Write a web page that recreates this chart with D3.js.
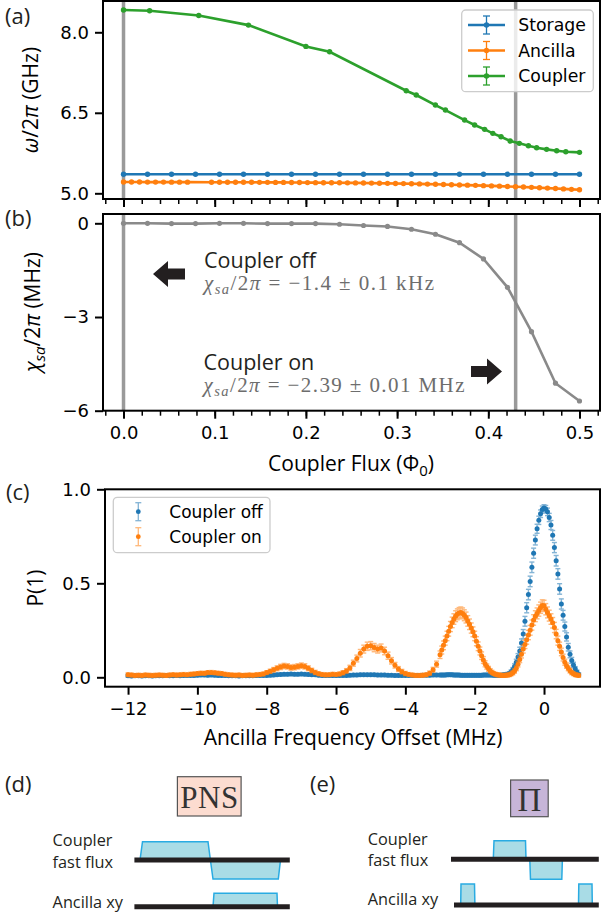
<!DOCTYPE html>
<html><head><meta charset="utf-8">
<script src="https://cdn.jsdelivr.net/npm/d3@7"></script>
<style>body{margin:0;background:#fff} svg{display:block}</style>
</head><body>
<svg id="fig" width="602" height="916"></svg>
<script>
// ---------------- DATA ----------------
// (a) mode frequencies vs coupler flux
const fluxGrid = d3.range(20).map(i => i * 0.5 / 19);
const storageGHz = [5.354,5.354,5.354,5.354,5.354,5.354,5.354,5.354,5.354,5.354,5.354,5.354,5.354,5.354,5.354,5.354,5.354,5.354,5.354,5.354];
const couplerFlux = [0,0.0286,0.0825,0.137,0.200,0.226,0.310,0.321,0.342,0.353,0.374,0.385,0.396,0.405,0.414,0.424,0.434,0.444,0.453,0.464,0.475,0.485,0.500];
const couplerGHz = [8.414,8.401,8.314,8.134,7.737,7.637,6.911,6.831,6.644,6.551,6.365,6.272,6.192,6.117,6.054,5.974,5.931,5.886,5.849,5.819,5.793,5.775,5.763];
const ancillaFluxGrid = d3.range(58).map(i => i * 0.5 / 57);
const ancillaGHz = [5.210,5.210,5.210,5.209,5.209,5.209,5.208,5.208,5.208,null,null,5.207,5.207,5.206,5.206,5.205,5.205,5.204,5.204,5.203,
  5.203,5.202,5.201,5.200,5.199,5.198,5.197,5.196,5.195,5.194,5.192,5.190,5.188,5.186,5.184,5.181,5.178,5.175,5.172,5.168,
  5.164,5.160,5.156,5.152,5.148,5.143,5.138,5.133,5.128,5.123,5.117,5.111,5.104,5.097,5.090,5.082,5.074,5.065];
const markedFlux = [0, 0.43];
const seriesNames = ["Storage", "Ancilla", "Coupler"];
const seriesColors = ["#1f77b4", "#ff7f0e", "#2ca02c"];
const ticksA_y = [5.0, 6.5, 8.0];
const ticksFlux = [0, 0.1, 0.2, 0.3, 0.4, 0.5];

// (b) cross-Kerr vs coupler flux
const chiMHz = [0,0,-0.01,-0.01,0,0,-0.01,-0.01,-0.01,-0.03,-0.07,-0.10,-0.19,-0.35,-0.62,-1.14,-2.05,-3.47,-5.12,-5.69];
const ticksB_y = [-6, -3, 0];

// (c) ancilla spectroscopy: coarse scan -12..-3.1 (0.1 MHz), fine scan -3..1 (0.05 MHz)
const freqGrid = d3.range(90).map(i => -12 + i * 0.1).concat(d3.range(81).map(i => -3 + i * 0.05));
const pOff = [
 0.008,0.007,0.008,0.008,0.007,0.008,0.008,0.007,0.008,0.008,0.008,0.009,0.008,0.008,0.009,0.008,0.009,0.009,0.010,0.010,
 0.011,0.012,0.012,0.011,0.012,0.011,0.010,0.009,0.009,0.008,0.008,0.008,0.007,0.008,0.008,0.008,0.008,0.009,0.009,0.010,
 0.010,0.011,0.012,0.014,0.015,0.016,0.016,0.017,0.016,0.016,0.017,0.016,0.015,0.014,0.013,0.011,0.010,0.009,0.009,0.009,
 0.009,0.009,0.010,0.010,0.011,0.012,0.012,0.013,0.013,0.013,0.013,0.013,0.012,0.012,0.012,0.011,0.011,0.010,0.010,0.010,
 0.010,0.010,0.010,0.010,0.010,0.011,0.011,0.011,0.012,0.012,
 0.012,0.012,0.012,0.012,0.013,0.013,0.013,0.013,0.012,0.012,0.012,0.012,0.011,0.011,0.011,0.011,0.011,0.011,0.011,0.011,
 0.011,0.011,0.011,0.011,0.011,0.012,0.012,0.012,0.012,0.012,0.012,0.011,0.011,0.011,0.011,0.011,0.012,0.013,0.014,0.016,
 0.020,0.028,0.040,0.058,0.080,0.108,0.140,0.182,0.230,0.298,0.370,0.440,0.510,0.585,0.660,0.730,0.790,0.835,0.870,0.892,
 0.900,0.895,0.880,0.850,0.810,0.755,0.690,0.620,0.550,0.470,0.390,0.330,0.270,0.215,0.160,0.122,0.090,0.066,0.045,0.028,0.015];
const errOff = [
 0.008,0.008,0.008,0.008,0.008,0.008,0.008,0.008,0.008,0.008,0.008,0.008,0.008,0.008,0.008,0.008,0.008,0.008,0.008,0.008,
 0.008,0.008,0.008,0.008,0.008,0.008,0.008,0.008,0.008,0.008,0.008,0.008,0.008,0.008,0.008,0.008,0.008,0.008,0.008,0.008,
 0.008,0.008,0.008,0.008,0.008,0.008,0.008,0.008,0.008,0.008,0.008,0.008,0.008,0.008,0.008,0.008,0.008,0.008,0.008,0.008,
 0.008,0.008,0.008,0.008,0.008,0.008,0.008,0.008,0.008,0.008,0.008,0.008,0.008,0.008,0.008,0.008,0.008,0.008,0.008,0.008,
 0.008,0.008,0.008,0.008,0.008,0.008,0.008,0.008,0.008,0.008,
 0.008,0.008,0.008,0.008,0.008,0.008,0.008,0.008,0.008,0.008,0.008,0.008,0.008,0.008,0.008,0.008,0.008,0.008,0.008,0.008,
 0.008,0.008,0.008,0.008,0.008,0.008,0.008,0.008,0.008,0.008,0.008,0.008,0.008,0.008,0.008,0.008,0.008,0.009,0.009,0.010,
 0.010,0.011,0.012,0.014,0.016,0.018,0.020,0.022,0.024,0.026,0.027,0.028,0.028,0.028,0.027,0.026,0.024,0.022,0.020,0.019,
 0.018,0.019,0.020,0.022,0.024,0.026,0.027,0.028,0.028,0.028,0.027,0.026,0.024,0.022,0.020,0.018,0.016,0.014,0.012,0.010,0.009];
const pOn = [
 0.014,0.012,0.010,0.011,0.010,0.012,0.011,0.010,0.011,0.012,0.011,0.010,0.012,0.014,0.012,0.013,0.015,0.014,0.016,0.018,
 0.020,0.022,0.021,0.025,0.026,0.024,0.022,0.020,0.016,0.014,0.012,0.011,0.012,0.010,0.011,0.012,0.011,0.013,0.015,0.018,
 0.025,0.032,0.040,0.048,0.055,0.060,0.058,0.052,0.054,0.058,0.062,0.058,0.048,0.036,0.026,0.019,0.015,0.013,0.014,0.016,
 0.015,0.018,0.024,0.034,0.050,0.075,0.100,0.128,0.150,0.165,0.168,0.158,0.150,0.156,0.140,0.115,0.088,0.064,0.044,0.030,
 0.020,0.015,0.012,0.010,0.010,0.011,0.014,0.022,0.040,0.070,
 0.120,0.145,0.170,0.195,0.220,0.245,0.270,0.292,0.310,0.325,0.335,0.342,0.345,0.340,0.330,0.318,0.300,0.282,0.262,0.242,
 0.220,0.192,0.165,0.140,0.115,0.092,0.072,0.057,0.045,0.034,0.026,0.020,0.016,0.013,0.012,0.011,0.010,0.010,0.011,0.012,
 0.014,0.018,0.024,0.034,0.048,0.070,0.095,0.122,0.150,0.175,0.200,0.225,0.250,0.278,0.305,0.325,0.340,0.355,0.370,0.382,
 0.380,0.362,0.345,0.328,0.310,0.290,0.265,0.230,0.195,0.165,0.135,0.105,0.080,0.062,0.048,0.035,0.025,0.019,0.014,0.012,0.010];
const errOn = [
 0.010,0.010,0.010,0.010,0.010,0.010,0.010,0.010,0.010,0.010,0.010,0.010,0.010,0.010,0.010,0.010,0.010,0.010,0.010,0.010,
 0.010,0.010,0.010,0.010,0.010,0.010,0.010,0.010,0.010,0.010,0.010,0.010,0.010,0.010,0.010,0.010,0.010,0.010,0.010,0.010,
 0.010,0.011,0.012,0.013,0.014,0.014,0.014,0.014,0.014,0.014,0.014,0.014,0.013,0.012,0.011,0.010,0.010,0.010,0.010,0.010,
 0.010,0.010,0.011,0.012,0.014,0.016,0.018,0.020,0.021,0.022,0.022,0.022,0.021,0.021,0.020,0.019,0.017,0.015,0.013,0.012,
 0.011,0.010,0.010,0.010,0.010,0.010,0.010,0.011,0.013,0.016,
 0.020,0.021,0.023,0.024,0.025,0.026,0.027,0.028,0.028,0.029,0.029,0.029,0.029,0.029,0.029,0.029,0.028,0.028,0.027,0.026,
 0.025,0.024,0.023,0.021,0.020,0.018,0.016,0.014,0.013,0.012,0.011,0.010,0.010,0.010,0.010,0.010,0.010,0.010,0.010,0.010,
 0.010,0.010,0.011,0.012,0.013,0.015,0.017,0.019,0.021,0.022,0.024,0.025,0.026,0.027,0.028,0.029,0.029,0.030,0.030,0.030,
 0.030,0.030,0.029,0.029,0.028,0.028,0.027,0.025,0.024,0.022,0.020,0.018,0.016,0.014,0.013,0.012,0.011,0.010,0.010,0.010,0.010];
const specNames = ["Coupler off", "Coupler on"];
const specColors = ["#1f77b4", "#ff7f0e"];
const ticksC_x = [-12, -10, -8, -6, -4, -2, 0];
const ticksC_y = [0.0, 0.5, 1.0];

// ---------------- DRAWING ----------------
const svg = d3.select("#fig");
const TICKFONT = "DejaVu Sans";
const LABFONT = "Open Sans";
const SPINE = 2;

function styleAxis(g, size) {
  g.selectAll(".domain").remove();
  g.selectAll(".tick line").attr("stroke", "#000").attr("stroke-width", SPINE);
  g.selectAll(".tick text").attr("font-family", TICKFONT).attr("font-size", size || 18).attr("fill", "#000");
}
function frame(x0, y0, x1, y1) {
  svg.append("rect").attr("x", x0).attr("y", y0).attr("width", x1 - x0).attr("height", y1 - y0)
    .attr("fill", "none").attr("stroke", "#000").attr("stroke-width", SPINE);
}
function panelLabel(t, x, y) {
  svg.append("text").attr("x", x).attr("y", y).attr("font-family", LABFONT).attr("font-size", 22)
    .attr("fill", "#231f20").text(t);
}
function errbars(g, xs, ys, es, xS, yS, color, cap) {
  const d = xs.map((x, i) => ({x, y: ys[i], e: es[i]}));
  const eg = g.append("g").attr("stroke", color).attr("stroke-width", 1.4).attr("opacity", 0.55);
  eg.selectAll("line.v").data(d).join("line").attr("class", "v")
    .attr("x1", p => xS(p.x)).attr("x2", p => xS(p.x))
    .attr("y1", p => yS(p.y - p.e)).attr("y2", p => yS(p.y + p.e));
  eg.selectAll("line.t").data(d).join("line").attr("class", "t")
    .attr("x1", p => xS(p.x) - cap).attr("x2", p => xS(p.x) + cap)
    .attr("y1", p => yS(p.y + p.e)).attr("y2", p => yS(p.y + p.e));
  eg.selectAll("line.b").data(d).join("line").attr("class", "b")
    .attr("x1", p => xS(p.x) - cap).attr("x2", p => xS(p.x) + cap)
    .attr("y1", p => yS(p.y - p.e)).attr("y2", p => yS(p.y - p.e));
  g.append("g").attr("fill", color).selectAll("circle").data(d).join("circle")
    .attr("cx", p => xS(p.x)).attr("cy", p => yS(p.y)).attr("r", 2.5);
}

// ---- Panel (a) ----
const A = {l: 103, r: 600, t: 1, b: 199};
const xA = d3.scaleLinear().domain([-0.0225, 0.5225]).range([A.l, A.r]);
const yA = d3.scaleLinear().domain([4.894, 8.583]).range([A.b, A.t]);
const gA = svg.append("g");
markedFlux.forEach(f => gA.append("line").attr("x1", xA(f)).attr("x2", xA(f)).attr("y1", A.t).attr("y2", A.b)
  .attr("stroke", "#9a9a9a").attr("stroke-width", 3.5));
const seriesA = [
  fluxGrid.map((f, i) => [f, storageGHz[i]]),
  ancillaFluxGrid.map((f, i) => [f, ancillaGHz[i]]).filter(p => p[1] !== null),
  couplerFlux.map((f, i) => [f, couplerGHz[i]])
];
const lineA = d3.line().x(p => xA(p[0])).y(p => yA(p[1]));
seriesA.forEach((s, k) => {
  gA.append("path").attr("d", lineA(s)).attr("fill", "none").attr("stroke", seriesColors[k]).attr("stroke-width", 2.6);
  gA.append("g").attr("fill", seriesColors[k]).selectAll("circle").data(s).join("circle")
    .attr("cx", p => xA(p[0])).attr("cy", p => yA(p[1])).attr("r", 2.7);
});
svg.append("g").attr("transform", `translate(${A.l},0)`)
  .call(d3.axisLeft(yA).tickValues(ticksA_y).tickFormat(d3.format(".1f")).tickSize(8).tickPadding(6))
  .call(g => styleAxis(g));
svg.append("g").attr("transform", `translate(0,${A.b})`)
  .call(d3.axisBottom(xA).tickValues(ticksFlux).tickFormat("").tickSize(8)).call(g => styleAxis(g));
svg.append("g").attr("transform", `translate(0,${A.b})`)
  .call(d3.axisBottom(xA).tickValues(d3.range(-0.02, 0.521, 0.02)).tickFormat("").tickSize(5))
  .call(g => { styleAxis(g); g.selectAll(".tick line").attr("stroke-width", 1.5); });
frame(A.l, A.t, A.r, A.b);
// legend (a)
const legA = svg.append("g");
legA.append("rect").attr("x", 461.7).attr("y", 10).attr("width", 131.6).attr("height", 81.7).attr("rx", 4)
  .attr("fill", "#fff").attr("fill-opacity", 0.8).attr("stroke", "#cccccc").attr("stroke-width", 1.3);
[25, 50.5, 76].forEach((cy, k) => {
  const c = seriesColors[k];
  legA.append("line").attr("x1", 468).attr("x2", 505).attr("y1", cy).attr("y2", cy).attr("stroke", c).attr("stroke-width", 2.6);
  legA.append("line").attr("x1", 486.5).attr("x2", 486.5).attr("y1", cy - 9).attr("y2", cy + 9).attr("stroke", c).attr("stroke-width", 1.3);
  legA.append("line").attr("x1", 483).attr("x2", 490).attr("y1", cy - 9).attr("y2", cy - 9).attr("stroke", c).attr("stroke-width", 1.3);
  legA.append("line").attr("x1", 483).attr("x2", 490).attr("y1", cy + 9).attr("y2", cy + 9).attr("stroke", c).attr("stroke-width", 1.3);
  legA.append("circle").attr("cx", 486.5).attr("cy", cy).attr("r", 2.7).attr("fill", c);
  legA.append("text").attr("x", 518.3).attr("y", cy + 6.2).attr("font-family", TICKFONT).attr("font-size", 17.3).text(seriesNames[k]);
});
// y label (a)
const ylA = svg.append("text").attr("transform", "translate(38,100) rotate(-90)").attr("text-anchor", "middle")
  .attr("font-family", LABFONT).attr("font-size", 21).attr("fill", "#000");
ylA.append("tspan").attr("font-style", "italic").text("ω");
ylA.append("tspan").text("/2");
ylA.append("tspan").attr("font-style", "italic").text("π");
ylA.append("tspan").text(" (GHz)");
panelLabel("(a)", 5, 24);

// ---- Panel (b) ----
const B = {l: 103, r: 600, t: 214, b: 410.7};
const xB = d3.scaleLinear().domain([-0.0225, 0.5225]).range([B.l, B.r]);
const yB = d3.scaleLinear().domain([-6, 0.298]).range([B.b, B.t]);
const gB = svg.append("g");
markedFlux.forEach(f => gB.append("line").attr("x1", xB(f)).attr("x2", xB(f)).attr("y1", B.t).attr("y2", B.b)
  .attr("stroke", "#9a9a9a").attr("stroke-width", 3.5));
const sB = fluxGrid.map((f, i) => [f, chiMHz[i]]);
gB.append("path").attr("d", d3.line().x(p => xB(p[0])).y(p => yB(p[1]))(sB)).attr("fill", "none")
  .attr("stroke", "#8a8a8a").attr("stroke-width", 2.6);
gB.append("g").attr("fill", "#8a8a8a").selectAll("circle").data(sB).join("circle")
  .attr("cx", p => xB(p[0])).attr("cy", p => yB(p[1])).attr("r", 2.6);
svg.append("g").attr("transform", `translate(${B.l},0)`)
  .call(d3.axisLeft(yB).tickValues(ticksB_y).tickFormat(d3.format("d")).tickSize(8).tickPadding(6))
  .call(g => styleAxis(g));
svg.append("g").attr("transform", `translate(0,${B.b})`)
  .call(d3.axisBottom(xB).tickValues(ticksFlux).tickFormat(d3.format(".1f")).tickSize(8).tickPadding(8))
  .call(g => styleAxis(g));
svg.append("g").attr("transform", `translate(0,${B.b})`)
  .call(d3.axisBottom(xB).tickValues(d3.range(-0.02, 0.521, 0.02)).tickFormat("").tickSize(5))
  .call(g => { styleAxis(g); g.selectAll(".tick line").attr("stroke-width", 1.5); });
frame(B.l, B.t, B.r, B.b);
// annotations
function ann(title, x, y1, y2, val, unit, w) {
  svg.append("text").attr("x", x).attr("y", y1).attr("font-family", LABFONT).attr("font-size", 21.5)
    .attr("fill", "#231f20").text(title);
  const m = svg.append("text").attr("x", x).attr("y", y2).attr("font-family", "Liberation Serif")
    .attr("font-size", 21).attr("fill", "#6d6d6d").attr("textLength", w).attr("lengthAdjust", "spacing");
  m.append("tspan").attr("font-style", "italic").text("χ");
  m.append("tspan").attr("font-style", "italic").attr("font-size", 14.5).attr("dy", 4).text("sa");
  m.append("tspan").attr("dy", -4).text("/2");
  m.append("tspan").attr("font-style", "italic").text("π");
  m.append("tspan").text(" = " + val + " " + unit);
}
ann("Coupler off", 204, 268, 289.5, "−1.4 ± 0.1", "kHz", 230);
ann("Coupler on", 203.5, 370, 391.5, "−2.39 ± 0.01", "MHz", 261);
function arrow(x0, x1, cy, dir) {
  const hl = 15, hh = 13, sh = 5.5;
  let pts;
  if (dir < 0) pts = [[x0, cy], [x0 + hl, cy - hh], [x0 + hl, cy - sh], [x1, cy - sh], [x1, cy + sh], [x0 + hl, cy + sh], [x0 + hl, cy + hh]];
  else pts = [[x1, cy], [x1 - hl, cy - hh], [x1 - hl, cy - sh], [x0, cy - sh], [x0, cy + sh], [x1 - hl, cy + sh], [x1 - hl, cy + hh]];
  svg.append("polygon").attr("points", pts.map(p => p.join(",")).join(" ")).attr("fill", "#231f20");
}
arrow(153, 185, 274, -1);
arrow(471, 502, 371.5, 1);
const ylB = svg.append("text").attr("transform", "translate(40,312) rotate(-90)").attr("text-anchor", "middle")
  .attr("font-family", LABFONT).attr("font-size", 21).attr("fill", "#000");
ylB.append("tspan").attr("font-style", "italic").text("χ");
ylB.append("tspan").attr("font-style", "italic").attr("font-size", 15).attr("dy", 5).text("sa");
ylB.append("tspan").attr("dy", -5).text("/2");
ylB.append("tspan").attr("font-style", "italic").text("π");
ylB.append("tspan").text(" (MHz)");
const xlB = svg.append("text").attr("x", 351).attr("y", 471).attr("text-anchor", "middle")
  .attr("font-family", LABFONT).attr("font-size", 21).attr("fill", "#000");
xlB.append("tspan").text("Coupler Flux (Φ");
xlB.append("tspan").attr("font-size", 15).attr("dy", 5).text("0");
xlB.append("tspan").attr("dy", -5).text(")");
panelLabel("(b)", 5, 226);

// ---- Panel (c) ----
const C = {l: 105, r: 600, t: 489.3, b: 686.7};
const xC = d3.scaleLinear().domain([-12.665, 1.615]).range([C.l, C.r]);
const yC = d3.scaleLinear().domain([-0.05, 1.0]).range([C.b, C.t]);
const gC = svg.append("g");
errbars(gC, freqGrid, pOff, errOff, xC, yC, specColors[0], 2.5);
errbars(gC, freqGrid, pOn, errOn, xC, yC, specColors[1], 2.5);
svg.append("g").attr("transform", `translate(${C.l},0)`)
  .call(d3.axisLeft(yC).tickValues(ticksC_y).tickFormat(d3.format(".1f")).tickSize(8).tickPadding(6))
  .call(g => styleAxis(g));
svg.append("g").attr("transform", `translate(0,${C.b})`)
  .call(d3.axisBottom(xC).tickValues(ticksC_x).tickFormat(d3.format("d")).tickSize(8).tickPadding(7.5))
  .call(g => styleAxis(g));
frame(C.l, C.t, C.r, C.b);
const legC = svg.append("g");
legC.append("rect").attr("x", 113.3).attr("y", 497.3).attr("width", 156.7).attr("height", 55.4).attr("rx", 4)
  .attr("fill", "#fff").attr("fill-opacity", 0.8).attr("stroke", "#cccccc").attr("stroke-width", 1.3);
[511.7, 536.7].forEach((cy, k) => {
  const c = specColors[k];
  const eg = legC.append("g").attr("stroke", c).attr("stroke-width", 1.3).attr("opacity", 0.55);
  eg.append("line").attr("x1", 138.3).attr("x2", 138.3).attr("y1", cy - 9).attr("y2", cy + 9);
  eg.append("line").attr("x1", 135.3).attr("x2", 141.3).attr("y1", cy - 9).attr("y2", cy - 9);
  eg.append("line").attr("x1", 135.3).attr("x2", 141.3).attr("y1", cy + 9).attr("y2", cy + 9);
  legC.append("circle").attr("cx", 138.3).attr("cy", cy).attr("r", 2.4).attr("fill", c);
  legC.append("text").attr("x", 169.3).attr("y", cy + 6.2).attr("font-family", TICKFONT).attr("font-size", 17).text(specNames[k]);
});
svg.append("text").attr("transform", "translate(43,588) rotate(-90)").attr("text-anchor", "middle")
  .attr("font-family", LABFONT).attr("font-size", 21).text("P(1)");
svg.append("text").attr("x", 353).attr("y", 745).attr("text-anchor", "middle")
  .attr("font-family", LABFONT).attr("font-size", 21).text("Ancilla Frequency Offset (MHz)");
panelLabel("(c)", 6, 500);

// ---- Panels (d), (e): pulse sequences ----
const PULSE_FILL = "#a9dce6", PULSE_STROKE = "#29abe2", BAR = "#231f20";
function poly(pts) {
  svg.append("polygon").attr("points", pts.map(p => p.join(",")).join(" "))
    .attr("fill", PULSE_FILL).attr("stroke", PULSE_STROKE).attr("stroke-width", 1.5);
}
function bar(x0, x1, y) {
  svg.append("line").attr("x1", x0).attr("x2", x1).attr("y1", y).attr("y2", y).attr("stroke", BAR).attr("stroke-width", 5);
}
function small(t, x, y) {
  svg.append("text").attr("x", x).attr("y", y).attr("font-family", LABFONT).attr("font-size", 16.3)
    .attr("fill", "#231f20").text(t);
}
panelLabel("(d)", 5, 792);
panelLabel("(e)", 310, 792);
svg.append("rect").attr("x", 177.4).attr("y", 776.7).attr("width", 63.7).attr("height", 39.3)
  .attr("fill", "#fcdcd0").attr("stroke", "#555").attr("stroke-width", 1.2);
svg.append("text").attr("x", 209.3).attr("y", 807.5).attr("text-anchor", "middle").attr("font-family", "Liberation Serif")
  .attr("font-size", 31).attr("fill", "#333").attr("textLength", 58).text("PNS");
svg.append("rect").attr("x", 510.6).attr("y", 780).attr("width", 37.6).attr("height", 36.7)
  .attr("fill", "#c7b5d8").attr("stroke", "#555").attr("stroke-width", 1.2);
svg.append("text").attr("x", 529.4).attr("y", 810.5).attr("text-anchor", "middle").attr("font-family", "Liberation Serif")
  .attr("font-size", 33).attr("fill", "#333").text("Π");
small("Coupler", 52.6, 845.5); small("fast flux", 52.6, 867.5); small("Ancilla xy", 52.6, 907.5);
small("Coupler", 367.8, 845); small("fast flux", 367.8, 866); small("Ancilla xy", 367.8, 905);
// (d) pulses
poly([[140, 860], [142.5, 841.7], [208, 841.7], [210.4, 860]]);
poly([[210.4, 860], [213, 879], [278.3, 879], [280.5, 860]]);
poly([[213, 906.7], [214, 893.3], [277, 893.3], [277.5, 906.7]]);
bar(134.4, 289.8, 860); bar(134.4, 289.8, 906.7);
// (e) pulses
poly([[493.3, 859.3], [494, 840.7], [525.5, 840.7], [526, 859.3]]);
poly([[529.8, 859.3], [530.5, 879.3], [561.8, 879.3], [562.4, 859.3]]);
poly([[460.7, 905], [461, 884], [474.5, 884], [474.9, 905]]);
poly([[578.5, 905], [578.8, 884], [592, 884], [592.3, 905]]);
bar(451, 598.8, 859.3); bar(454, 598.8, 905);
</script></body></html>
